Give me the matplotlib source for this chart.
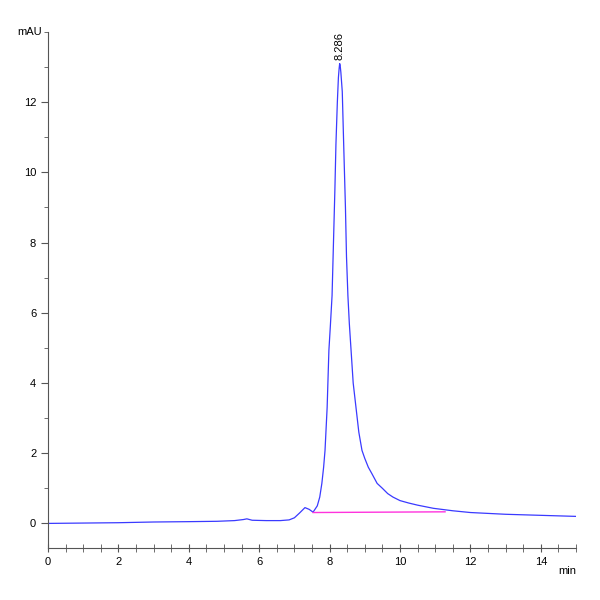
import matplotlib
matplotlib.use("Agg")
import matplotlib.pyplot as plt
from matplotlib.ticker import MultipleLocator, FixedLocator

times = [0.0, 1.0, 2.0, 3.0, 4.0, 4.8, 5.3, 5.55, 5.65, 5.8, 6.2, 6.6, 6.85, 7.0, 7.15, 7.3, 7.42, 7.53,
         7.65, 7.72, 7.78, 7.83, 7.87, 7.93, 7.98, 8.02, 8.07, 8.11, 8.15, 8.18, 8.22, 8.25, 8.27, 8.286,
         8.30, 8.32, 8.36, 8.40, 8.45, 8.48, 8.52, 8.56, 8.61, 8.67, 8.75, 8.83, 8.92, 9.0, 9.1, 9.2,
         9.35, 9.5, 9.65, 9.8, 10.0, 10.25, 10.5, 10.95, 11.5, 12.0, 13.0, 14.0, 15.0]
signal = [0.0, 0.01, 0.02, 0.04, 0.05, 0.06, 0.08, 0.11, 0.13, 0.09, 0.08, 0.08, 0.1, 0.16, 0.3, 0.45, 0.4, 0.32,
          0.5, 0.75, 1.14, 1.6, 2.08, 3.3, 4.93, 5.6, 6.49, 8.0, 9.5, 10.8, 12.0, 12.7, 12.95, 13.1,
          13.05, 12.85, 12.3, 10.8, 9.0, 7.6, 6.49, 5.7, 4.93, 4.0, 3.3, 2.6, 2.08, 1.85, 1.6, 1.42,
          1.14, 1.0, 0.85, 0.75, 0.65, 0.58, 0.52, 0.43, 0.36, 0.31, 0.26, 0.23, 0.2]
baseline_t = [7.53, 11.28]
baseline_y = [0.31, 0.33]
peak_label = "8.286"
peak_t, peak_y = 8.286, 13.1
y_ticks = [0, 2, 4, 6, 8, 10, 12]

plt.rcParams['font.family'] = ['Liberation Sans Narrow', 'Liberation Sans', 'DejaVu Sans']
fig = plt.figure(figsize=(6, 6), dpi=100)
ax = fig.add_axes([0.08, 0.0867, 0.88, 0.86])
ax.plot(times, signal, color='#3a3aff', lw=0.9)
ax.plot(baseline_t, baseline_y, color='#ff33dd', lw=1.0)
ax.text(peak_t, peak_y + 0.1, peak_label, rotation=90, ha='center', va='bottom', fontsize=8)
ax.set_xlim(0, 15)
ax.set_ylim(-0.7, 14.0)
ax.xaxis.set_major_locator(MultipleLocator(2))
ax.xaxis.set_minor_locator(MultipleLocator(0.5))
ax.yaxis.set_major_locator(FixedLocator(y_ticks))
ax.yaxis.set_minor_locator(MultipleLocator(0.5 * 2))
for s in ['top', 'right']:
    ax.spines[s].set_visible(False)
for s in ['left', 'bottom']:
    ax.spines[s].set_color('#555555')
ax.tick_params(which='both', colors='#555555', labelcolor='black', labelsize=8)
ax.tick_params(which='major', length=5)
ax.tick_params(which='minor', length=3)
ax.tick_params(axis='x', which='both', direction='inout', length=6)
ax.text(-0.012, 14.0, "mAU", transform=ax.get_yaxis_transform(), ha='right', va='center', fontsize=8)
ax.text(15.0, -1.35, "min", ha='right', va='center', fontsize=8)
fig.savefig("out.png")
